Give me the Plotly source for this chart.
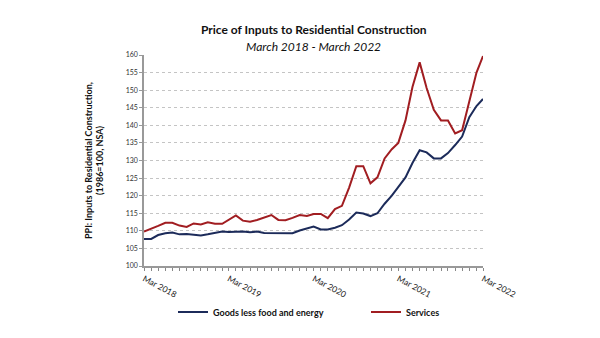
import pandas as pd
import plotly.graph_objects as go

# Monthly PPI index values, Mar 2018 - Mar 2022 (1986=100, NSA)
months = pd.date_range("2018-03-01", "2022-03-01", freq="MS")

goods_less_food_energy = [
    107.7, 107.7, 108.8, 109.3, 109.5, 109.0, 109.1, 109.0, 108.7, 109.0, 109.5, 109.8,
    109.7, 109.8, 109.8, 109.6, 109.8, 109.4, 109.4, 109.3, 109.3, 109.3, 110.1, 110.7,
    111.2, 110.4, 110.4, 110.9, 111.6, 113.2, 115.2, 114.9, 114.2, 115.0, 117.7, 120.0,
    122.5, 125.2, 129.3, 132.9, 132.3, 130.6, 130.6, 132.1, 134.4, 136.8, 142.3, 145.5,
    147.5,
]
services = [
    109.8, 110.5, 111.4, 112.3, 112.3, 111.5, 111.1, 112.1, 111.8, 112.4, 112.0, 112.0,
    113.2, 114.4, 112.9, 112.6, 113.1, 113.8, 114.5, 113.1, 113.0, 113.7, 114.5, 114.2,
    114.8, 114.8, 113.6, 116.2, 117.1, 122.3, 128.4, 128.4, 123.5, 125.2, 130.6, 133.2,
    135.0, 141.4, 150.9, 157.9, 150.6, 144.4, 141.4, 141.4, 137.7, 138.6, 146.8, 155.0,
    159.7,
]

tick_dates = pd.date_range("2018-03-01", "2022-03-01", freq="12MS")
tick_labels = [f"Mar {d.year}" for d in tick_dates]
y_ticks = list(range(100, 161, 5))

NAVY = "#1c2b5a"
DARK_RED = "#a11d21"
FONT = "Lato"

W, H = 600, 338
M_L, M_R, M_T, M_B = 144, 117, 55, 63
PLOT_W = W - M_L - M_R
PLOT_H = H - M_T - M_B


def px_x(px):
    """Horizontal pixel position -> paper fraction."""
    return (px - M_L) / PLOT_W


def px_y(px):
    """Vertical pixel position (from top) -> paper fraction."""
    return (H - M_B - px) / PLOT_H


fig = go.Figure()
fig.add_trace(go.Scatter(x=months, y=goods_less_food_energy, mode="lines",
                         name="Goods less food and energy", legend="legend",
                         line=dict(color=NAVY, width=2)))
fig.add_trace(go.Scatter(x=months, y=services, mode="lines",
                         name="Services", legend="legend2",
                         line=dict(color=DARK_RED, width=2)))

legend_style = dict(orientation="h", xanchor="left", yanchor="middle",
                    font=dict(size=9, family=FONT, color="#111111", weight="bold"),
                    itemwidth=30, bgcolor="rgba(0,0,0,0)")

fig.update_layout(
    width=W, height=H,
    margin=dict(l=M_L, r=M_R, t=M_T, b=M_B),
    paper_bgcolor="white", plot_bgcolor="white",
    font=dict(family=FONT, color="#222222"),
    showlegend=True,
    legend=dict(x=px_x(173), y=px_y(323), **legend_style),
    legend2=dict(x=px_x(366), y=px_y(323), **legend_style),
    annotations=[
        dict(text="<b>Price of Inputs to Residential Construction</b>",
             x=0.5, y=px_y(18), xref="paper", yref="paper", showarrow=False,
             font=dict(size=12, family=FONT, color="#111111")),
        dict(text="<i>March 2018 - March 2022</i>",
             x=0.5, y=px_y(36), xref="paper", yref="paper", showarrow=False,
             font=dict(size=12, family=FONT, color="#111111")),
    ],
)

fig.update_xaxes(
    range=[months[0], months[-1]],
    tickvals=tick_dates, ticktext=tick_labels, tickangle=28,
    tickfont=dict(size=8.5, family=FONT, color="#222222"),
    ticks="outside", ticklen=3, tickcolor="#888888",
    minor=dict(dtick="M1", ticks="outside", ticklen=3, tickcolor="#888888", showgrid=False),
    showline=True, linecolor="#999999", linewidth=1.5,
    showgrid=False, zeroline=False,
)
fig.update_yaxes(
    range=[100, 160], tickvals=y_ticks,
    tickfont=dict(size=7, family=FONT, color="#333333"),
    ticks="outside", ticklen=3, tickcolor="#999999",
    showline=True, linecolor="#999999", linewidth=1.5,
    showgrid=True, gridcolor="#c4c4c4", griddash="dot", gridwidth=1,
    zeroline=False,
    title=dict(text="<b>PPI: Inputs to Residential Construction,</b><br><b>(1986=100, NSA)</b>",
               font=dict(size=9, family=FONT, color="#111111"), standoff=20),
)

fig.write_html("out.html")
